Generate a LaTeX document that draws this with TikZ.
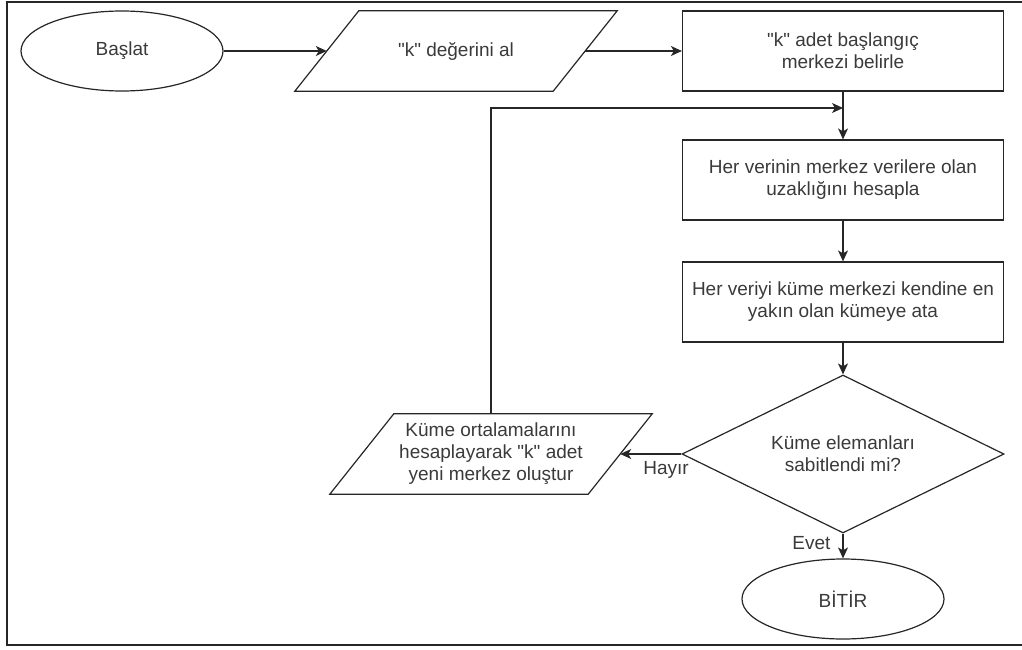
\documentclass[tikz,border=0pt]{standalone}
\usepackage{fontspec}
\setmainfont{Liberation Sans}[Ligatures=TeXOff]
\usepackage{xcolor}
\usepackage{tikz}
\usetikzlibrary{arrows.meta,shapes.geometric}

\definecolor{cizgi}{HTML}{262626}
\definecolor{yazi}{HTML}{3a3a3a}

\begin{document}
\begin{tikzpicture}[x=1pt, y=-1pt,
    every node/.style={font=\fontsize{19}{22}\selectfont, text=yazi},
    uc/.style={ellipse, draw=cizgi, line width=1.2pt, minimum width=202pt, minimum height=80pt},
    kutu/.style={rectangle, draw=cizgi, line width=1.2pt, minimum width=321pt, minimum height=80pt, align=center},
    girdi/.style={rectangle, minimum width=258pt, minimum height=80pt, align=center},
    karar/.style={diamond, aspect=2, draw=cizgi, line width=1.2pt, minimum width=322pt, minimum height=158pt, align=center},
    ok/.style={draw=cizgi, line width=1.2pt, -{Stealth[length=11pt, width=10pt, inset=3pt]}},
    etiket/.style={inner sep=1pt}]

  \useasboundingbox (0,0) rectangle (1022,650);
  \draw[cizgi, line width=1.8pt] (1022,2) -- (7,2) -- (7,645) -- (1022,645);

  \node[uc] (baslat) at (122,51) {Başlat};
  \node[girdi] (kal) at (456,51) {"k" değerini al};
  \node[kutu] (belirle) at (843,51) {"k" adet başlangıç\\merkezi belirle};
  \node[kutu] (uzaklik) at (843,180) {Her verinin merkez verilere olan\\uzaklığını hesapla};
  \node[kutu] (ata) at (843,302) {Her veriyi küme merkezi kendine en\\yakın olan kümeye ata};
  \node[karar] (sabit) at (843,454) {Küme elemanları\\sabitlendi mi?};
  \node[girdi] (yeni) at (491,454) {Küme ortalamalarını\\hesaplayarak "k" adet\\yeni merkez oluştur};
  \node[uc] (bitir) at (843,599) {BİTİR};
  \coordinate (donus) at (843,108);

  \foreach \g in {kal, yeni}{
    \draw[cizgi, line width=1.2pt] ([xshift=-32pt]\g.south west) -- ([xshift=32pt]\g.north west)
      -- ([xshift=32pt]\g.north east) -- ([xshift=-32pt]\g.south east) -- cycle;
  }

  \draw[ok] (baslat) -- (kal);
  \draw[ok] (kal) -- (belirle);
  \foreach \a/\b in {belirle/uzaklik, uzaklik/ata, ata/sabit}{
    \draw[ok] (\a) -- (\b);
  }
  \draw[ok] (sabit) -- node[etiket, pos=0.25, below=6pt] {Hayır} (yeni);
  \draw[ok] (sabit) -- node[etiket, pos=0.4, left=11pt] {Evet} (bitir);
  \draw[ok] (yeni) |- (donus);
\end{tikzpicture}
\end{document}
